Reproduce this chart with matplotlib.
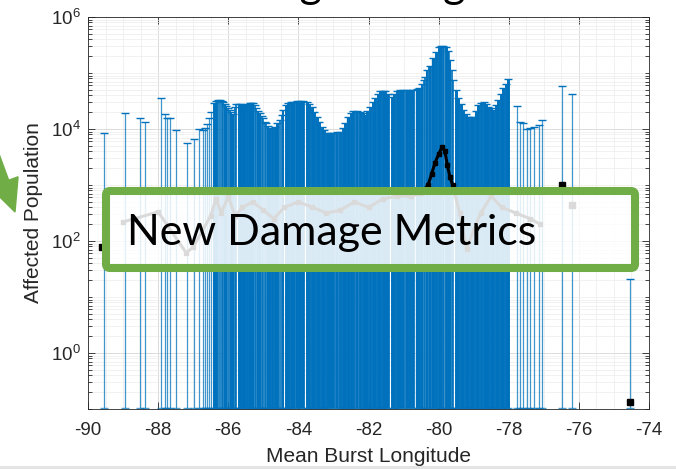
import matplotlib
matplotlib.use("Agg")
import matplotlib.pyplot as plt
import matplotlib.patches as mpatches
from matplotlib.ticker import FixedLocator, LogLocator, MultipleLocator, NullFormatter
import numpy as np

# blue error bars: burst longitude and log10 of the upper end
burst_lon = [
    -89.55, -88.95, -88.53, -88.38, -87.93, -87.81, -87.75, -87.67, -87.48, -87.17,
    -86.98, -86.83, -86.72, -86.65, -86.60, -86.55, -86.48, -86.41, -86.34, -86.28,
    -86.24, -86.19, -86.15, -86.10, -86.05, -86.00, -85.96, -85.91, -85.86, -85.81,
    -85.77, -85.70, -85.63, -85.58, -85.53, -85.46, -85.39, -85.34, -85.29, -85.24,
    -85.20, -85.15, -85.10, -85.05, -85.01, -84.95, -84.91, -84.86, -84.81, -84.74,
    -84.67, -84.60, -84.52, -84.48, -84.43, -84.36, -84.29, -84.22, -84.14, -84.05,
    -83.95, -83.86, -83.76, -83.69, -83.62, -83.55, -83.48, -83.40, -83.33, -83.26,
    -83.19, -83.10, -83.00, -82.90, -82.81, -82.74, -82.67, -82.58, -82.50, -82.43,
    -82.33, -82.24, -82.17, -82.10, -82.03, -81.96, -81.88, -81.81, -81.74, -81.67,
    -81.60, -81.53, -81.44, -81.34, -81.27, -81.20, -81.10, -81.01, -80.91, -80.82,
    -80.72, -80.63, -80.55, -80.48, -80.43, -80.39, -80.34, -80.25, -80.15, -80.07,
    -80.00, -79.93, -79.87, -79.80, -79.73, -79.67, -79.62, -79.58, -79.51, -79.44,
    -79.37, -79.30, -79.22, -79.15, -79.08, -79.01, -78.94, -78.87, -78.80, -78.72,
    -78.65, -78.58, -78.51, -78.44, -78.37, -78.30, -78.22, -78.15, -78.08, -78.01,
    -77.77, -77.68, -77.58, -77.49, -77.39, -77.28, -77.15, -77.06, -76.49, -76.19,
    -74.55,
]
upper_log = [
    3.92, 4.29, 4.19, 4.12, 4.55, 4.26, 4.20, 4.19, 3.98, 3.75,
    3.82, 4.00, 3.99, 4.01, 4.09, 4.19, 4.31, 4.46, 4.50, 4.51,
    4.51, 4.50, 4.49, 4.45, 4.41, 4.37, 4.34, 4.30, 4.26, 4.40,
    4.44, 4.44, 4.44, 4.43, 4.41, 4.45, 4.46, 4.46, 4.46, 4.42,
    4.37, 4.33, 4.28, 4.23, 4.19, 4.13, 4.10, 4.05, 4.01, 4.02,
    4.04, 4.10, 4.16, 4.25, 4.34, 4.42, 4.46, 4.48, 4.49, 4.50,
    4.50, 4.50, 4.49, 4.45, 4.40, 4.31, 4.22, 4.12, 4.04, 3.98,
    3.93, 3.93, 3.93, 3.94, 3.95, 4.02, 4.10, 4.22, 4.28, 4.32,
    4.32, 4.31, 4.28, 4.25, 4.32, 4.40, 4.48, 4.55, 4.62, 4.67,
    4.68, 4.68, 4.63, 4.58, 4.63, 4.67, 4.69, 4.70, 4.70, 4.70,
    4.70, 4.71, 4.74, 4.80, 4.88, 4.93, 5.05, 5.12, 5.26, 5.38,
    5.46, 5.48, 5.48, 5.47, 5.40, 5.23, 5.05, 4.88, 4.70, 4.55,
    4.44, 4.34, 4.26, 4.21, 4.21, 4.21, 4.33, 4.43, 4.47, 4.49,
    4.45, 4.40, 4.37, 4.34, 4.43, 4.52, 4.62, 4.73, 4.80, 4.89,
    4.41, 4.13, 4.10, 4.00, 4.01, 4.04, 4.07, 4.16, 4.76, 4.62,
    1.32,
]
lower_value = 0.105

# black mean line (log10)
mean_lon = [
    -89.0, -88.0, -87.2, -87.0, -86.5, -86.35, -86.2, -86.0, -85.8, -85.6,
    -85.3, -85.0, -84.7, -84.4, -84.0, -83.6, -83.2, -82.8, -82.4, -82.0,
    -81.6, -81.2, -80.8, -80.5, -80.3, -80.2, -80.1, -80.0, -79.9, -79.82,
    -79.75, -79.68, -79.6, -79.4, -79.2, -79.0, -78.8, -78.5, -78.2, -77.8,
    -77.4, -77.1,
]
mean_log = [
    2.34, 2.52, 1.79, 1.89, 2.45, 2.75, 2.50, 2.79, 2.45, 2.60,
    2.70, 2.55, 2.40, 2.60, 2.70, 2.60, 2.50, 2.55, 2.70, 2.60,
    2.75, 2.80, 2.80, 2.85, 3.00, 3.20, 3.40, 3.55, 3.68, 3.60,
    3.35, 3.15, 3.00, 2.50, 1.85, 2.20, 2.50, 2.80, 2.60, 2.50,
    2.40, 2.30,
]

# isolated black markers
single_lon = [-89.6, -76.49, -76.19, -74.55]
single_log = [1.9, 3.0, 2.64, -0.87]

x_ticks = [-90, -88, -86, -84, -82, -80, -78, -76, -74]
y_ticks = [1e0, 1e2, 1e4, 1e6]

bar_color = "#0072BD"
green = "#70AD47"
ink = "#262626"
dense_band = (-86.45, -78.0)  # where the bars overlap into a solid block

plt.rcParams["font.family"] = ["Liberation Sans", "DejaVu Sans"]

fig = plt.figure(figsize=(6.76, 4.69), dpi=100)
ax = fig.add_axes([88 / 676, 60 / 469, 561 / 676, 392 / 469])

x = np.array(burst_lon)
top = 10 ** np.array(upper_log)
low = np.full_like(top, lower_value)
gap = np.minimum(np.abs(np.diff(x, prepend=-200)), np.abs(np.diff(x, append=200)))
inside = (x > dense_band[0]) & (x < dense_band[1])
lw = np.where(inside, np.clip(gap * 35 * 0.72 * 1.2, 1.0, 2.8), 0.9)
alpha = np.where(inside, 1.0, 0.75)

for xi, lo, hi, w, a in zip(x, low, top, lw, alpha):
    ax.vlines(xi, lo, hi, colors=bar_color, linewidths=w, alpha=a, zorder=2)
ax.plot(x, top, ls="none", marker="_", ms=6, mew=1.0, color=bar_color, zorder=2)
ax.plot(x, low, ls="none", marker="_", ms=6, mew=1.0, color=bar_color, alpha=0.7, zorder=2)

ax.plot(mean_lon, 10 ** np.array(mean_log), color="k", lw=2.2, marker="s", ms=3.5, zorder=3)
ax.plot(single_lon, 10 ** np.array(single_log), ls="none", color="k", marker="s", ms=4, zorder=3)

ax.set_yscale("log")
ax.set_xlim(-90, -74)
ax.set_ylim(0.1, 1e6)
ax.set_xticks(x_ticks)
ax.set_xticklabels([str(t) for t in x_ticks])
ax.yaxis.set_major_locator(FixedLocator(y_ticks))
ax.yaxis.set_minor_locator(LogLocator(base=10, subs=np.arange(1, 10), numticks=30))
ax.yaxis.set_minor_formatter(NullFormatter())
ax.xaxis.set_minor_locator(MultipleLocator(0.5))

ax.grid(which="major", color="#d6d6d6", lw=0.6)
ax.grid(which="minor", color="#ececec", lw=0.5)
ax.set_axisbelow(True)

ax.tick_params(which="both", direction="in", top=True, right=True, colors=ink, width=0.6)
ax.tick_params(which="major", length=5, labelsize=13.5)
ax.tick_params(axis="x", which="major", pad=9)
ax.tick_params(axis="y", which="major", pad=5)
ax.tick_params(axis="y", which="minor", length=3)
ax.tick_params(axis="x", which="minor", length=0)
for s in ax.spines.values():
    s.set_color(ink)
    s.set_linewidth(0.6)

ax.set_xlabel("Mean Burst Longitude", fontsize=15, color=ink, va="center")
ax.xaxis.set_label_coords(0.5, -0.122)
ax.set_ylabel("Affected Population", fontsize=15, color=ink, ha="center", va="center")
ax.yaxis.set_label_coords(-0.098, 0.5)

# slide overlay: cropped title (only descenders show), green arrow, highlighted box
fig.text(189 / 676, 1 + 2 / 469, "Damage Along", fontsize=31, family=["Lato", "DejaVu Sans"],
         va="baseline", ha="left", color="k")

arrow = mpatches.FancyArrow(-0.14, 3.36, 0.29, -0.79, width=0.10, head_width=0.30,
                            head_length=0.32, length_includes_head=True, color=green,
                            transform=fig.dpi_scale_trans, clip_on=False, zorder=10)
fig.add_artist(arrow)

box = mpatches.FancyBboxPatch((1.06, 2.01), 5.29, 0.77,
                              boxstyle="round,pad=0,rounding_size=0.04",
                              transform=fig.dpi_scale_trans, facecolor=(1, 1, 1, 0.86),
                              edgecolor=green, linewidth=5.8, zorder=10)
fig.add_artist(box)
fig.text(127 / 676, 1 - 245 / 469, "New Damage Metrics", fontsize=31,
         family=["Lato", "DejaVu Sans"], va="baseline", ha="left", color="k", zorder=11)

fig.add_artist(mpatches.Rectangle((0, 0), 1, 3 / 469, transform=fig.transFigure,
                                  facecolor="#e4e4e4", edgecolor="none", zorder=10))

fig.savefig("out.png", dpi=100)
